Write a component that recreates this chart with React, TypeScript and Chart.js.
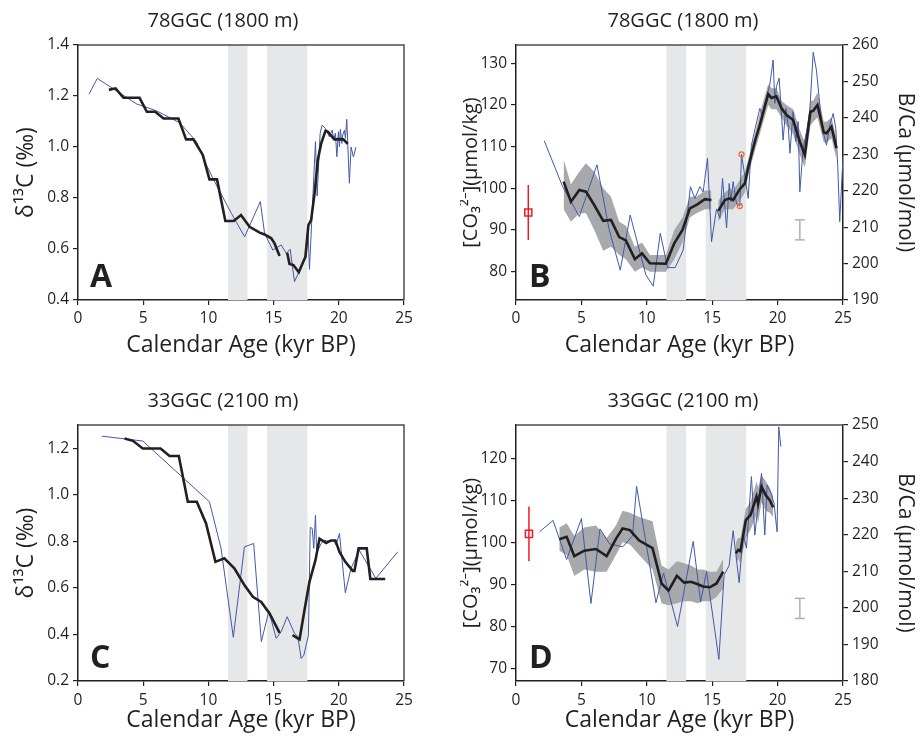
import React, { useEffect, useRef } from "react";
import { Chart, registerables } from "chart.js";

Chart.register(...registerables);

const FONT = "'Open Sans', 'Noto Sans', sans-serif";
const INK = "#231f20";
const BLUE = "#3f5aa8";
const BAND = "#a8a9ac";
const SHADE = "#e6e7e8";

// ---------- shared ----------
const xTickValues = [0, 5, 10, 15, 20, 25];
const shadedStart = [11.5, 14.5];
const shadedEnd = [13.0, 17.6];

// ---------- Panel A : 78GGC d13C ----------
const ageA_smooth = [2.37, 2.88, 3.49, 4.72, 5.28, 5.92, 6.56, 7.7, 8.29, 8.85, 9.57, 10.08, 10.66, 11.3, 11.94, 12.5, 13.16, 13.93, 14.31, 14.82, 15.07, 15.46, 15.75, 16.04, 16.22, 16.52, 16.93, 17.44, 17.67, 17.88, 18.14, 18.39, 18.65, 18.98, 19.15, 19.66, 20.05, 20.35, 20.68];
const d13cA_smooth = [1.224, 1.23, 1.193, 1.193, 1.138, 1.138, 1.112, 1.112, 1.03, 1.03, 0.969, 0.873, 0.873, 0.71, 0.71, 0.733, 0.687, 0.664, 0.657, 0.642, 0.622, 0.573, null, 0.585, 0.541, 0.537, 0.509, 0.57, 0.694, 0.714, 0.818, 0.949, 1.014, 1.063, 1.06, 1.03, 1.031, 1.03, 1.012];
const ageA_raw = [0.84, 1.48, 4.49, 6.02, 7.8, 9.08, 9.85, 10.61, 11.76, 12.78, 13.98, 14.31, 14.94, 15.58, 15.97, 16.27, 16.6, 16.99, 17.5, 17.62, 17.75, 18.21, 18.34, 18.57, 18.72, 18.98, 19.28, 19.49, 19.62, 19.74, 19.85, 19.97, 20.05, 20.12, 20.23, 20.3, 20.43, 20.51, 20.61, 20.81, 20.94, 21.12, 21.32];
const d13cA_raw = [1.207, 1.269, 1.169, 1.142, 1.095, 1.021, 0.929, 0.851, 0.74, 0.648, 0.786, 0.661, 0.596, 0.616, 0.583, 0.599, 0.472, 0.515, 0.57, 0.69, 0.52, 1.021, 0.808, 1.054, 1.086, 1.073, 1.04, 1.066, 1.03, 1.054, 0.962, 1.06, 1.001, 1.069, 1.014, 1.047, 1.066, 1.034, 1.109, 0.858, 1.0, 0.961, 1.0];
const yTicksA = [0.4, 0.6, 0.8, 1.0, 1.2, 1.4];

// ---------- Panel B : 78GGC CO3 / B/Ca ----------
const ageB_smooth = [3.64, 4.2, 4.84, 5.35, 5.98, 6.67, 7.26, 7.89, 8.4, 9.09, 9.63, 10.24, 11.46, 12.1, 12.73, 13.29, 13.8, 14.44, 14.94, 15.2, 15.46, 15.97, 16.35, 16.6, 17.11, 17.5, 17.75, 18.26, 18.64, 19.28, 19.53, 19.91, 20.3, 20.68, 21.19, 21.7, 22.08, 22.51, 22.72, 23.05, 23.53, 23.74, 24.12, 24.5];
const co3B_smooth = [101.6, 96.8, 99.6, 99.2, 96.0, 92.2, 92.4, 88.3, 87.5, 83.0, 84.4, 82.0, 81.9, 86.8, 90.0, 95.2, 96.0, 97.4, 97.2, null, 94.6, 97.2, 97.6, 97.2, 99.8, 101.2, 105.0, 111.2, 115.2, 122.6, 121.7, 122.1, 119.2, 117.6, 116.4, 111.2, 108.0, 118.4, 118.6, 120.0, 113.4, 113.2, 114.8, 109.6];
const co3B_upper = [107, 101, 104, 106, 104, 100, 98, 92, 91, 86, 87, 84, 84, 90, 93, 98, 98, 99.5, 99.5, null, 97, 99, 100, 99.5, 102, 104, 107, 113, 118, 125, 124, 124, 121, 120, 119, 114, 111, 121, 121, 123, 116, 116, 117, 112];
const co3B_lower = [95, 92, 94, 94, 90, 85, 86, 84, 83, 80, 81, 80, 80, 83, 87, 93, 94, 95, 95, null, 92, 95, 95, 95, 97, 99, 103, 109, 113, 120, 119, 119, 117, 115, 113, 108, 105, 115, 116, 117, 111, 111, 112, 107];
const ageB_raw = [2.16, 3.57, 4.84, 6.19, 7.13, 7.97, 8.73, 9.93, 10.49, 11.03, 11.59, 12.17, 12.78, 13.34, 13.67, 14.06, 14.31, 14.64, 14.95, 15.33, 15.59, 15.79, 16.1, 16.3, 16.43, 16.6, 16.86, 17.11, 17.24, 17.75, 18.0, 18.26, 18.64, 18.84, 19.1, 19.4, 19.66, 19.79, 19.91, 20.12, 20.42, 20.63, 20.81, 20.94, 21.19, 21.39, 21.57, 21.7, 21.95, 22.26, 22.46, 22.72, 22.97, 23.23, 23.48, 23.74, 23.99, 24.25, 24.45, 24.6, 24.75, 25.0];
const bcaB_raw = [233.7, 221.1, 212.9, 227.1, 209.2, 198.2, 213.3, 196.9, 193.8, 208.3, 198.9, 198.9, 203.7, 221.1, 217.9, 221.1, 219.7, 228.9, 206.0, 215.0, 212.4, 223.4, 209.8, 222.0, 217.0, 222.5, 216.4, 215.8, 230.0, 217.9, 232.5, 236.7, 242.6, 240.8, 244.9, 249.0, 255.9, 244.0, 248.6, 250.9, 233.9, 242.6, 238.0, 230.3, 241.7, 233.5, 239.0, 219.7, 231.6, 237.1, 241.7, 258.0, 253.1, 243.5, 236.2, 232.5, 238.0, 241.2, 237.1, 226.6, 211.5, 229.3];
const ageB_flagged = [17.11, 17.24];
const bcaB_flagged = [215.8, 230.0];
const ageB_modern = [0.94];
const co3B_modern = [94.2];
const co3B_modernErr = [6.6];
const ageB_bcaErr = [21.7];
const bcaB_errLow = [206.5];
const bcaB_errHigh = [212.0];
const co3TicksB = [80, 90, 100, 110, 120, 130];
const bcaTicksB = [190, 200, 210, 220, 230, 240, 250, 260];

// ---------- Panel C : 33GGC d13C ----------
const ageC_smooth = [3.57, 4.21, 4.97, 6.33, 7.02, 7.73, 8.42, 9.11, 9.82, 10.54, 11.22, 11.99, 12.76, 13.41, 14.05, 14.69, 15.46, 15.9, 16.45, 16.99, 17.37, 17.75, 18.21, 18.52, 19.03, 19.4, 19.74, 20.05, 20.5, 21.07, 21.2, 21.52, 22.14, 22.42, 23.56];
const d13cC_smooth = [1.242, 1.232, 1.199, 1.199, 1.167, 1.167, 0.97, 0.97, 0.877, 0.712, 0.727, 0.684, 0.612, 0.562, 0.54, 0.49, 0.407, null, 0.397, 0.379, 0.505, 0.626, 0.719, 0.812, 0.793, 0.804, 0.804, 0.755, 0.712, 0.673, 0.673, 0.77, 0.77, 0.638, 0.638];
const ageC_raw = [1.84, 4.97, 10.08, 10.97, 11.91, 12.76, 13.47, 14.06, 14.64, 15.2, 15.58, 16.04, 16.6, 16.86, 17.11, 17.32, 17.67, 17.81, 17.96, 18.08, 18.21, 18.31, 18.64, 18.9, 19.33, 19.61, 19.79, 20.05, 20.5, 20.94, 21.57, 22.84, 24.52];
const d13cC_raw = [1.252, 1.231, 0.97, 0.77, 0.388, 0.776, 0.791, 0.369, 0.5, 0.383, 0.412, 0.476, 0.405, 0.391, 0.297, 0.311, 0.397, 0.86, 0.856, 0.77, 0.912, 0.749, 0.791, 0.805, 0.798, 0.805, 0.784, 0.834, 0.579, 0.684, 0.762, 0.641, 0.755];
const yTicksC = [0.2, 0.4, 0.6, 0.8, 1.0, 1.2];

// ---------- Panel D : 33GGC CO3 / B/Ca ----------
const ageD_smooth = [3.31, 3.87, 4.46, 5.22, 6.11, 6.93, 7.64, 8.15, 8.71, 9.42, 10.44, 11.13, 11.66, 12.3, 12.86, 13.37, 13.9, 14.3, 14.82, 15.33, 15.84, 16.3, 16.81, 16.99, 17.16, 17.57, 17.93, 18.39, 18.51, 18.77, 19.1, 19.4, 19.66];
const co3D_smooth = [100.7, 101.3, 96.7, 98.0, 98.4, 96.7, 100.8, 103.3, 102.9, 100.4, 98.6, 90.2, 88.5, 92.0, 90.4, 90.6, 90.0, 89.5, 89.3, 90.2, 93.0, null, 97.4, 98.2, 97.9, 105.3, 106.5, 110.9, 109.1, 113.2, 111.2, 110.0, 108.3];
const co3D_upper = [103.5, 104.5, 101.5, 103.5, 104, 101, 104, 107.5, 107, 106, 105, 94.5, 93.5, 95.5, 95, 94.5, 93.5, 93.5, 93, 93, 96, null, 100, 101, 101, 108, 109.5, 114.5, 113, 116, 114.5, 113, 111];
const co3D_lower = [98, 97, 92, 93.5, 93, 93, 97, 100, 99.5, 97, 93.5, 85.5, 85, 85.5, 86, 86, 85.5, 86, 86, 87, 89, null, 95, 96, 95, 101, 103, 106.5, 104.5, 109.5, 107.5, 107, 106];
const ageD_raw = [1.8, 2.83, 3.87, 5.0, 5.73, 6.42, 7.15, 8.17, 8.91, 9.22, 10.7, 11.28, 12.35, 13.55, 14.11, 14.57, 15.51, 15.91, 16.29, 16.6, 17.06, 17.37, 17.62, 18.0, 18.26, 18.77, 19.02, 19.2, 19.53, 19.73, 19.96, 20.09, 20.25];
const bcaD_raw = [220.8, 223.9, 213.2, 224.4, 201.2, 221.6, 217.5, 216.7, 219.7, 233.2, 201.4, 209.5, 194.9, 218.2, 201.6, 209.9, 185.9, 209.0, 211.5, 221.1, 206.9, 220.3, 216.3, 235.9, 219.9, 236.8, 219.9, 233.6, 231.0, 228.5, 220.8, 249.5, 244.1];
const ageD_modern = [0.99];
const co3D_modern = [102.0];
const co3D_modernErr = [6.5];
const ageD_bcaErr = [21.7];
const bcaD_errLow = [197.1];
const bcaD_errHigh = [202.6];
const co3TicksD = [70, 80, 90, 100, 110, 120];
const bcaTicksD = [180, 190, 200, 210, 220, 230, 240, 250];

// ---------- helpers ----------
const pts = (xs: number[], ys: (number | null)[]) => xs.map((x, i) => ({ x, y: ys[i] }));

function bandDatasets(xs: number[], lo: (number | null)[], hi: (number | null)[], yAxisID: string) {
  const segs: number[][] = [];
  let cur: number[] = [];
  xs.forEach((_, i) => {
    if (lo[i] == null || hi[i] == null) {
      if (cur.length) segs.push(cur);
      cur = [];
    } else cur.push(i);
  });
  if (cur.length) segs.push(cur);
  const out: any[] = [];
  segs.forEach((idx) => {
    out.push({
      data: idx.map((i) => ({ x: xs[i], y: hi[i] })),
      borderColor: "rgba(0,0,0,0)", borderWidth: 0, pointRadius: 0,
      backgroundColor: BAND, fill: "+1", yAxisID, order: 10,
    });
    out.push({
      data: idx.map((i) => ({ x: xs[i], y: lo[i] })),
      borderColor: "rgba(0,0,0,0)", borderWidth: 0, pointRadius: 0,
      fill: false, yAxisID, order: 10,
    });
  });
  return out;
}

const decorPlugin = {
  id: "decor",
  beforeDatasetsDraw(chart: any) {
    const { ctx, chartArea, scales } = chart;
    ctx.save();
    ctx.fillStyle = SHADE;
    shadedStart.forEach((s, i) => {
      const x0 = scales.x.getPixelForValue(s);
      const x1 = scales.x.getPixelForValue(shadedEnd[i]);
      ctx.fillRect(x0, chartArea.top, x1 - x0, chartArea.bottom - chartArea.top);
    });
    ctx.restore();
  },
  afterDraw(chart: any, _a: any, opts: any) {
    const { ctx, chartArea } = chart;
    ctx.save();
    ctx.strokeStyle = "#4d4d4f";
    ctx.lineWidth = 1.5;
    ctx.beginPath();
    ctx.moveTo(chartArea.left, chartArea.top);
    ctx.lineTo(chartArea.right, chartArea.top);
    if (opts.rightBorder) {
      ctx.lineTo(chartArea.right, chartArea.bottom);
    }
    ctx.stroke();
    ctx.fillStyle = INK;
    ctx.textAlign = "center";
    ctx.textBaseline = "middle";
    ctx.font = `20px ${FONT}`;
    ctx.fillText(opts.title, opts.titleX, opts.titleY);
    ctx.textAlign = "left";
    ctx.textBaseline = "alphabetic";
    ctx.font = `bold 32px ${FONT}`;
    ctx.fillText(opts.letter, opts.letterX, opts.letterY);
    ctx.restore();
  },
};

function xAxis(height: number, titlePad: number, tickPad: number) {
  return {
    type: "linear", position: "bottom", min: 0, max: 25,
    afterBuildTicks: (s: any) => { s.ticks = xTickValues.map((v) => ({ value: v })); },
    afterFit: (s: any) => { s.height = height; },
    grid: { display: true, drawOnChartArea: false, drawTicks: true, tickLength: 5, color: INK, lineWidth: 1.2 },
    border: { display: true, color: INK, width: 1.5 },
    ticks: { color: INK, font: { family: FONT, size: 15.5 }, padding: tickPad, maxRotation: 0, autoSkip: false, callback: (v: any) => String(v) },
    title: { display: true, text: "Calendar Age (kyr BP)", color: INK, font: { family: FONT, size: 23 }, padding: { top: 0, bottom: titlePad } },
  };
}

function yAxis(position: string, min: number, max: number, tickVals: number[], digits: number, width: number, title: string, titleSize: number, titlePad: number) {
  return {
    type: "linear", position, min, max,
    afterBuildTicks: (s: any) => { s.ticks = tickVals.map((v) => ({ value: v })); },
    afterFit: (s: any) => { s.width = width; },
    grid: { display: true, drawOnChartArea: false, drawTicks: true, tickLength: 5, color: INK, lineWidth: 1.2 },
    border: { display: true, color: INK, width: 1.5 },
    ticks: { color: INK, font: { family: FONT, size: 15.5 }, padding: 4, autoSkip: false, callback: (v: any) => Number(v).toFixed(digits) },
    title: { display: true, text: title, color: INK, font: { family: FONT, size: titleSize }, padding: { top: titlePad, bottom: 0 } },
  };
}

const baseOptions = (padding: any, scales: any, decor: any) => ({
  animation: false, responsive: false, maintainAspectRatio: false, devicePixelRatio: 1,
  layout: { padding },
  elements: { point: { radius: 0 }, line: { tension: 0 } },
  plugins: { legend: { display: false }, tooltip: { enabled: false }, title: { display: false }, decor },
  scales,
});

function configA(): any {
  return {
    type: "line",
    data: {
      datasets: [
        { data: pts(ageA_smooth, d13cA_smooth), borderColor: INK, borderWidth: 2.6, pointRadius: 0, order: 2 },
        { data: pts(ageA_raw, d13cA_raw), borderColor: BLUE, borderWidth: 1, pointRadius: 0, order: 5 },
      ],
    },
    options: baseOptions(
      { top: 45, right: 56, bottom: 0, left: 0 },
      { x: xAxis(71, 12, 4), y: yAxis("left", 0.4, 1.4, yTicksA, 1, 78, "δ¹³C (‰)", 23, 13) },
      { title: "78GGC (1800 m)", titleX: 223, titleY: 21, letter: "A", letterX: 90, letterY: 287, rightBorder: true }
    ),
    plugins: [decorPlugin],
  };
}

function configB(): any {
  return {
    type: "line",
    data: {
      datasets: [
        { data: pts(ageB_modern, co3B_modern), yAxisID: "y", showLine: false, pointStyle: "rect", pointRadius: 5, pointBorderColor: "#ed1c24", pointBackgroundColor: "rgba(0,0,0,0)", pointBorderWidth: 1.5, order: 0 },
        { data: [{ x: ageB_modern[0], y: co3B_modern[0] - co3B_modernErr[0] }, { x: ageB_modern[0], y: co3B_modern[0] + co3B_modernErr[0] }], yAxisID: "y", borderColor: "#ed1c24", borderWidth: 1.5, pointRadius: 0, order: 0 },
        { data: pts(ageB_flagged, bcaB_flagged), yAxisID: "y1", showLine: false, pointRadius: 2.5, pointBorderColor: "#f26a3d", pointBackgroundColor: "rgba(255,255,255,0)", pointBorderWidth: 1.3, order: 1 },
        { data: [{ x: ageB_bcaErr[0], y: bcaB_errLow[0] }, { x: ageB_bcaErr[0], y: bcaB_errHigh[0] }], yAxisID: "y1", borderColor: "#9fb3c8", borderWidth: 1.5, pointStyle: "line", pointRadius: 5, pointBorderColor: "#9fb3c8", pointBorderWidth: 1.5, order: 1 },
        { data: pts(ageB_smooth, co3B_smooth), yAxisID: "y", borderColor: INK, borderWidth: 2.6, pointRadius: 0, order: 2 },
        { data: pts(ageB_raw, bcaB_raw), yAxisID: "y1", borderColor: BLUE, borderWidth: 1, pointRadius: 0, order: 5 },
        ...bandDatasets(ageB_smooth, co3B_lower, co3B_upper, "y"),
      ],
    },
    options: baseOptions(
      { top: 45, right: 0, bottom: 0, left: 0 },
      {
        x: xAxis(71, 12, 4),
        y: yAxis("left", 73.2, 134.4, co3TicksB, 0, 56, "[CO₃²⁻](µmol/kg)", 20, -1),
        y1: yAxis("right", 190, 260, bcaTicksB, 0, 77, "B/Ca (µmol/mol)", 21, 2),
      },
      { title: "78GGC (1800 m)", titleX: 223, titleY: 21, letter: "B", letterX: 69, letterY: 287, rightBorder: false }
    ),
    plugins: [decorPlugin],
  };
}

function configC(): any {
  return {
    type: "line",
    data: {
      datasets: [
        { data: pts(ageC_smooth, d13cC_smooth), borderColor: INK, borderWidth: 2.6, pointRadius: 0, order: 2 },
        { data: pts(ageC_raw, d13cC_raw), borderColor: BLUE, borderWidth: 1, pointRadius: 0, order: 5 },
      ],
    },
    options: baseOptions(
      { top: 54, right: 56, bottom: 0, left: 0 },
      { x: xAxis(61, 8, 5), y: yAxis("left", 0.2, 1.3, yTicksC, 1, 78, "δ¹³C (‰)", 23, 13) },
      { title: "33GGC (2100 m)", titleX: 223, titleY: 30, letter: "C", letterX: 90, letterY: 297, rightBorder: true }
    ),
    plugins: [decorPlugin],
  };
}

function configD(): any {
  return {
    type: "line",
    data: {
      datasets: [
        { data: pts(ageD_modern, co3D_modern), yAxisID: "y", showLine: false, pointStyle: "rect", pointRadius: 5, pointBorderColor: "#ed1c24", pointBackgroundColor: "rgba(0,0,0,0)", pointBorderWidth: 1.5, order: 0 },
        { data: [{ x: ageD_modern[0], y: co3D_modern[0] - co3D_modernErr[0] }, { x: ageD_modern[0], y: co3D_modern[0] + co3D_modernErr[0] }], yAxisID: "y", borderColor: "#ed1c24", borderWidth: 1.5, pointRadius: 0, order: 0 },
        { data: [{ x: ageD_bcaErr[0], y: bcaD_errLow[0] }, { x: ageD_bcaErr[0], y: bcaD_errHigh[0] }], yAxisID: "y1", borderColor: "#9fb3c8", borderWidth: 1.5, pointStyle: "line", pointRadius: 5, pointBorderColor: "#9fb3c8", pointBorderWidth: 1.5, order: 1 },
        { data: pts(ageD_smooth, co3D_smooth), yAxisID: "y", borderColor: INK, borderWidth: 2.6, pointRadius: 0, order: 2 },
        { data: pts(ageD_raw, bcaD_raw), yAxisID: "y1", borderColor: BLUE, borderWidth: 1, pointRadius: 0, order: 5 },
        ...bandDatasets(ageD_smooth, co3D_lower, co3D_upper, "y"),
      ],
    },
    options: baseOptions(
      { top: 54, right: 0, bottom: 0, left: 0 },
      {
        x: xAxis(61, 8, 5),
        y: yAxis("left", 67.0, 127.9, co3TicksD, 0, 56, "[CO₃²⁻](µmol/kg)", 20, -1),
        y1: yAxis("right", 180, 250, bcaTicksD, 0, 77, "B/Ca (µmol/mol)", 21, 2),
      },
      { title: "33GGC (2100 m)", titleX: 223, titleY: 30, letter: "D", letterX: 69, letterY: 297, rightBorder: false }
    ),
    plugins: [decorPlugin],
  };
}

function Panel({ left, top, build }: { left: number; top: number; build: () => any }) {
  const ref = useRef<HTMLCanvasElement>(null);
  useEffect(() => {
    const chart = new Chart(ref.current as HTMLCanvasElement, build());
    return () => chart.destroy();
  }, []);
  return (
    <canvas
      ref={ref}
      width={460}
      height={371}
      style={{ position: "absolute", left, top, width: 460, height: 371 }}
    />
  );
}

export default function App() {
  return (
    <div style={{ position: "absolute", left: 0, top: 0, width: 920, height: 742, background: "#fff" }}>
      <Panel left={0} top={0} build={configA} />
      <Panel left={460} top={0} build={configB} />
      <Panel left={0} top={371} build={configC} />
      <Panel left={460} top={371} build={configD} />
    </div>
  );
}
